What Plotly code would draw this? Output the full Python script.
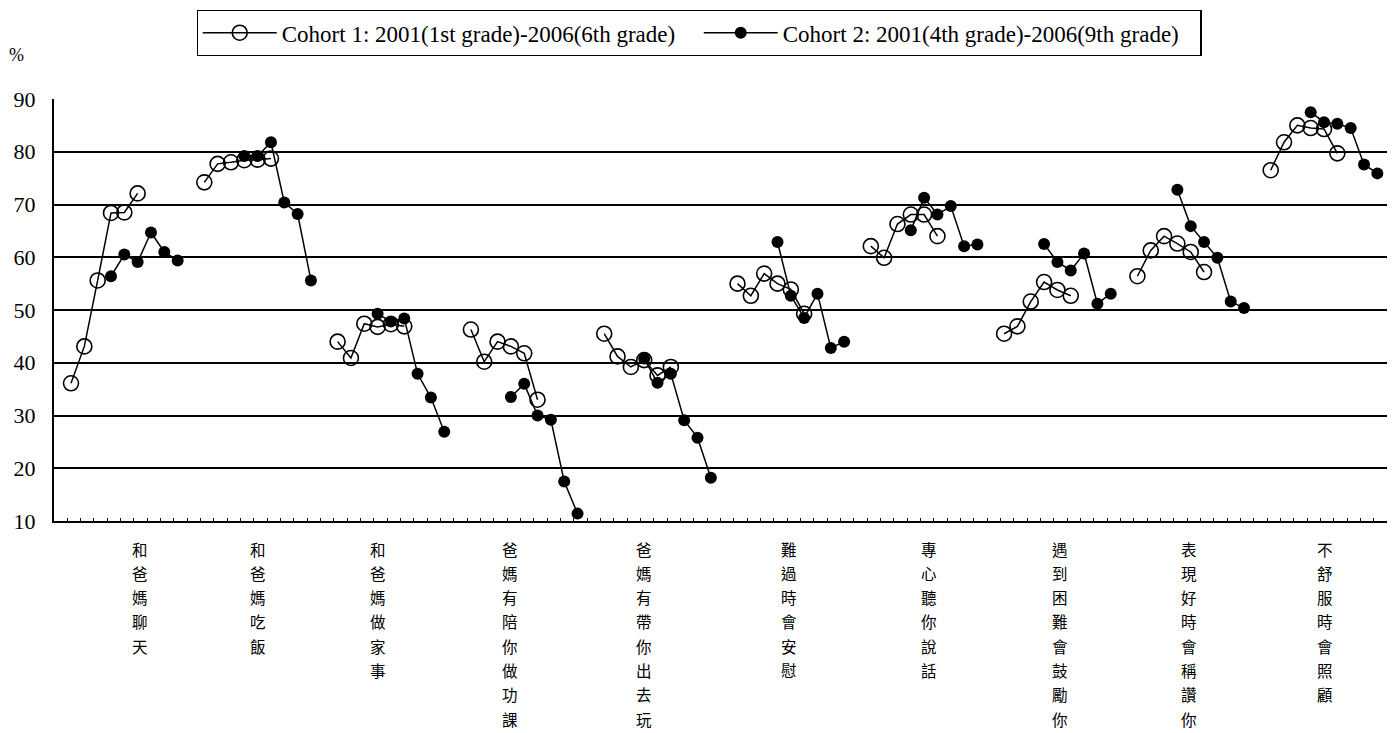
import plotly.graph_objects as go

categories = ["和爸媽聊天", "和爸媽吃飯", "和爸媽做家事", "爸媽有陪你做功課", "爸媽有帶你出去玩",
              "難過時會安慰", "專心聽你說話", "遇到困難會鼓勵你", "表現好時會稱讚你", "不舒服時會照顧"]
series_names = ["Cohort 1: 2001(1st grade)-2006(6th grade)",
                "Cohort 2: 2001(4th grade)-2006(9th grade)"]
y_ticks = [10, 20, 30, 40, 50, 60, 70, 80, 90]

# Cohort 1: 2001..2006 (grade 1..6), one list per item
cohort1 = [
    [36.1, 43.1, 55.6, 68.4, 68.5, 72.1],
    [74.2, 77.7, 78.0, 78.4, 78.5, 78.7],
    [44.0, 40.9, 47.4, 46.8, 47.3, 46.9],
    [46.3, 40.2, 44.0, 43.1, 41.8, 33.0],
    [45.5, 41.2, 39.2, 40.5, 37.6, 39.2],
    [55.0, 52.7, 56.9, 55.0, 53.9, 49.3],
    [62.1, 59.9, 66.3, 68.1, 68.1, 64.0],
    [45.5, 46.9, 51.6, 55.3, 53.8, 52.7],
    [56.4, 61.3, 64.0, 62.6, 61.0, 57.2],
    [76.5, 81.8, 85.0, 84.5, 84.3, 79.7],
]
# Cohort 2: 2001..2006 (grade 4..9)
cohort2 = [
    [56.4, 60.5, 59.1, 64.7, 61.0, 59.4],
    [79.2, 79.2, 81.8, 70.4, 68.2, 55.6],
    [49.3, 47.8, 48.4, 37.9, 33.4, 26.9],
    [33.5, 36.0, 30.0, 29.2, 17.5, 11.4],
    [40.8, 36.2, 37.9, 29.1, 25.8, 18.2],
    [62.9, 52.7, 48.5, 53.1, 42.8, 44.0],
    [65.1, 71.3, 68.1, 69.7, 62.1, 62.4],
    [62.5, 59.1, 57.5, 60.7, 51.2, 53.1],
    [72.8, 65.9, 62.9, 59.9, 51.6, 50.4],
    [87.5, 85.6, 85.3, 84.5, 77.6, 75.9],
]

# ---- layout helpers (positions on the slot axis) ----
GROUP = 10          # slots per item
START = [1, 4]      # first slot of each cohort inside a group
label_offset = [5.2, 4.0, 3.0, 2.9, 3.0, 3.9, 4.4, 4.2, 3.9, 4.1]


def build(values, start):
    xs, ys = [], []
    for g, vals in enumerate(values):
        for j, v in enumerate(vals):
            xs.append(g * GROUP + start + j)
            ys.append(v)
        xs.append(None)
        ys.append(None)
    return xs, ys


SERIF = "Liberation Serif, Times New Roman, serif"
CJK = "Noto Sans CJK TC, Noto Sans CJK SC, sans-serif"

fig = go.Figure()
x1, y1 = build(cohort1, START[0])
x2, y2 = build(cohort2, START[1])
fig.add_trace(go.Scatter(
    x=x1, y=y1, name=series_names[0], mode="lines+markers",
    line=dict(color="black", width=1.5), connectgaps=False,
    marker=dict(symbol="circle-open", size=15, color="black", line=dict(width=1.6, color="black")),
))
fig.add_trace(go.Scatter(
    x=x2, y=y2, name=series_names[1], mode="lines+markers",
    line=dict(color="black", width=1.5), connectgaps=False,
    marker=dict(symbol="circle", size=12, color="black"),
))

annotations = []
for g, label in enumerate(categories):
    xpos = g * GROUP + 1 + label_offset[g]
    for i, ch in enumerate(label):
        annotations.append(dict(
            x=xpos, xref="x", y=0, yref="paper", yanchor="middle", xanchor="center",
            yshift=-(27.5 + 24.3 * i), text=ch, showarrow=False,
            font=dict(family=CJK, size=15.5, color="black"),
        ))
annotations.append(dict(
    x=(16 - 54) / 1333, xref="paper", xanchor="center",
    y=(521.5 - 55) / 422.5, yref="paper", yanchor="middle",
    text="%", showarrow=False, font=dict(family=SERIF, size=18, color="black"),
))

fig.update_layout(
    width=1397, height=733,
    margin=dict(l=54, r=10, t=99, b=211.5, pad=0),
    plot_bgcolor="white", paper_bgcolor="white",
    showlegend=True,
    legend=dict(
        orientation="h", x=0.4839, xanchor="center", y=1.2107, yanchor="top",
        bordercolor="black", borderwidth=1.2, bgcolor="white",
        font=dict(family=SERIF, size=23, color="black"),
        itemwidth=74, entrywidth=412, entrywidthmode="pixels",
    ),
    xaxis=dict(
        range=[-0.275, 99.725], showgrid=False, zeroline=False,
        showline=True, linecolor="black", linewidth=2,
        ticks="inside", ticklen=3, tickwidth=1, tickcolor="black",
        tickmode="linear", tick0=-0.275, dtick=1, showticklabels=False,
    ),
    yaxis=dict(
        range=[10, 90], tickmode="array", tickvals=y_ticks, ticktext=[str(v) for v in y_ticks],
        showgrid=True, gridcolor="black", gridwidth=2, zeroline=False,
        showline=True, linecolor="black", linewidth=2,
        ticks="", tickfont=dict(family=SERIF, size=22, color="black"),
        ticklabelstandoff=12,
    ),
    annotations=annotations,
)

fig.write_html(
    "out.html",
    config={"displayModeBar": False},
    post_script="document.body.style.margin='0';document.body.style.overflow='hidden';",
)
